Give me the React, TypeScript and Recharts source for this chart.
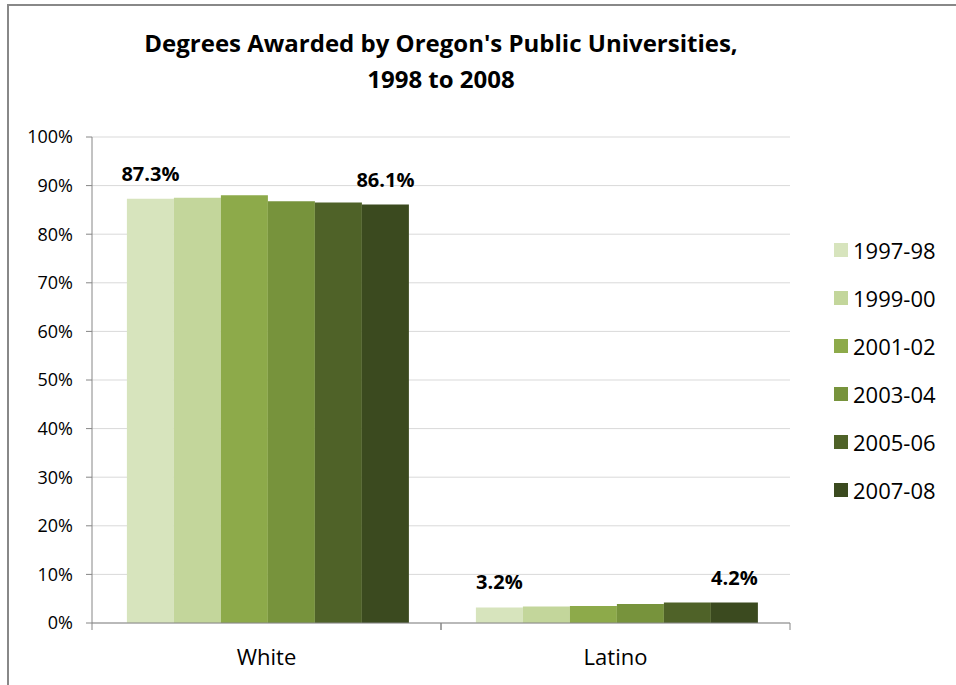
import { BarChart, Bar, XAxis, YAxis, CartesianGrid, LabelList } from 'recharts'

const groups = ['White', 'Latino']
const years = ['1997-98', '1999-00', '2001-02', '2003-04', '2005-06', '2007-08']
const white = [87.3, 87.5, 88.0, 86.8, 86.5, 86.1]
const latino = [3.2, 3.4, 3.5, 3.9, 4.2, 4.2]
const colors = ['#D7E4BD', '#C3D69B', '#8DAA4A', '#77933C', '#4F6228', '#3B4A1F']
const yTicks = [0, 10, 20, 30, 40, 50, 60, 70, 80, 90, 100]

const data = groups.map((g, gi) => {
  const row: Record<string, string | number> = { group: g }
  years.forEach((y, i) => { row[y] = gi === 0 ? white[i] : latino[i] })
  return row
})

const axisColor = '#868686'

// category label plus the small tick marks at the group boundaries
function GroupTick(props: any) {
  const { x, y, payload } = props
  const half = payload.offset ?? 0
  return (
    <g>
      <line x1={x - half} y1={y} x2={x - half} y2={y + 7} stroke={axisColor} />
      <line x1={x + half} y1={y} x2={x + half} y2={y + 7} stroke={axisColor} />
      <text x={x} y={y + 42} textAnchor="middle" fontSize={22} fill="#000">{payload.value}</text>
    </g>
  )
}

export default function App() {
  return (
    <div style={{ position: 'absolute', left: 0, top: 0, width: 956, height: 685, overflow: 'hidden', background: '#fff', fontFamily: '"Open Sans", sans-serif' }}>
      <div style={{ position: 'absolute', left: 7, top: 4, right: -10, bottom: -10, borderTop: '2px solid #888', borderLeft: '2px solid #888' }} />
      <div style={{ position: 'absolute', left: 0, width: 882, top: 25, textAlign: 'center', fontWeight: 700, fontSize: 24, lineHeight: '36px', color: '#000' }}>
        Degrees Awarded by Oregon's Public Universities,<br />1998 to 2008
      </div>
      <BarChart width={956} height={685} data={data} barCategoryGap="10%" barGap={0}
        margin={{ top: 137, right: 166, bottom: 0, left: 0 }}>
        <CartesianGrid vertical={false} stroke="#D9D9D9" />
        <XAxis dataKey="group" stroke={axisColor} tickLine={false} tickSize={0} tickMargin={0} tick={<GroupTick />} height={62} />
        <YAxis width={92} domain={[0, 100]} ticks={yTicks} interval={0} tickFormatter={(v: number) => `${v}%`}
          stroke={axisColor} tickSize={6} tickMargin={13} tick={{ fill: '#000', fontSize: 18 }} />
        {years.map((y, i) => (
          <Bar key={y} dataKey={y} fill={colors[i]} isAnimationActive={false}>
            {(i === 0 || i === years.length - 1) && (
              <LabelList dataKey={y} position="top" offset={18}
                formatter={(v: any) => `${Number(v).toFixed(1)}%`}
                style={{ fontSize: 20, fontWeight: 700, fill: '#000' }} />
            )}
          </Bar>
        ))}
      </BarChart>
      <div style={{ position: 'absolute', left: 834, top: 226 }}>
        {years.map((y, i) => (
          <div key={y} style={{ display: 'flex', alignItems: 'center', height: 48 }}>
            <span style={{ width: 14, height: 14, background: colors[i], marginRight: 5 }} />
            <span style={{ fontSize: 22, color: '#000' }}>{y}</span>
          </div>
        ))}
      </div>
    </div>
  )
}
